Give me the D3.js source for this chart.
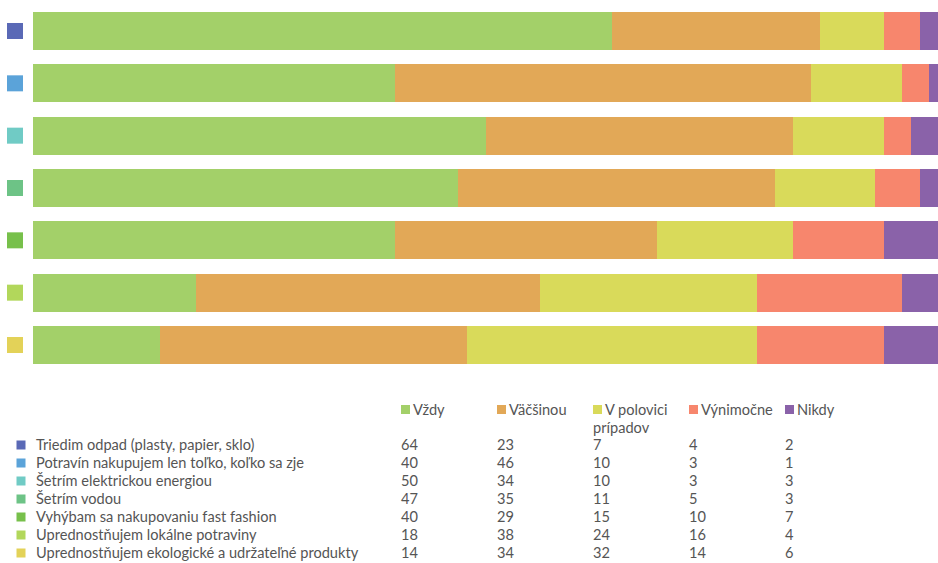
<!DOCTYPE html>
<html>
<head>
<meta charset="utf-8">
<script src="https://cdn.jsdelivr.net/npm/d3@7"></script>
<style>
  html, body { margin: 0; padding: 0; background: #fff; }
  svg { display: block; }
  text { font-family: Lato, "Open Sans", sans-serif; fill: #555555; }
</style>
</head>
<body>
<svg id="chart" width="938" height="563"></svg>
<script>
const categories = [
  "Triedim odpad (plasty, papier, sklo)",
  "Potravín nakupujem len toľko, koľko sa zje",
  "Šetrím elektrickou energiou",
  "Šetrím vodou",
  "Vyhýbam sa nakupovaniu fast fashion",
  "Uprednostňujem lokálne potraviny",
  "Uprednostňujem ekologické a udržateľné produkty"
];
const categoryColors = ["#5a69b6", "#5ba3d9", "#70cbc5", "#6dc386", "#77c04b", "#b2d75b", "#e3d258"];
const seriesNames = ["Vždy", "Väčšinou", "V polovici prípadov", "Výnimočne", "Nikdy"];
const seriesColors = ["#a3d069", "#e2a857", "#d9da5a", "#f7866d", "#8a62a9"];
const vzdy      = [64, 40, 50, 47, 40, 18, 14];
const vacsinou  = [23, 46, 34, 35, 29, 38, 34];
const vPolovici = [7, 10, 10, 11, 15, 24, 32];
const vynimocne = [4, 3, 3, 5, 10, 16, 14];
const nikdy     = [2, 1, 3, 3, 7, 4, 6];

const seriesValues = [vzdy, vacsinou, vPolovici, vynimocne, nikdy];
const keys = ["s0", "s1", "s2", "s3", "s4"];
const rows = categories.map((c, i) => {
  const r = { cat: c };
  keys.forEach((k, j) => r[k] = seriesValues[j][i]);
  return r;
});

const svg = d3.select("#chart");

const x = d3.scaleLinear().domain([0, 100]).range([33, 938]);
const y = d3.scaleBand().domain(categories).range([12, 364]).paddingInner(0.274).paddingOuter(0);
const color = d3.scaleOrdinal().domain(keys).range(seriesColors);
const catColor = d3.scaleOrdinal().domain(categories).range(categoryColors);

const stack = d3.stack().keys(keys)(rows);

svg.append("g").selectAll("g")
  .data(stack).join("g")
  .attr("fill", d => color(d.key))
  .selectAll("rect")
  .data(d => d).join("rect")
  .attr("x", d => x(d[0]))
  .attr("y", d => y(d.data.cat))
  .attr("width", d => x(d[1]) - x(d[0]))
  .attr("height", y.bandwidth())
  .attr("shape-rendering", "crispEdges");

// category markers
svg.append("g").selectAll("rect")
  .data(categories).join("rect")
  .attr("x", 7)
  .attr("y", d => y(d) + y.bandwidth() / 2 - 8)
  .attr("width", 16).attr("height", 16)
  .attr("fill", d => catColor(d));

// legend table
const fs = 14.6;
const colX = d3.scaleLinear().domain([0, 4]).range([401, 785]);
const rowY = d3.scaleLinear().domain([0, 6]).range([450, 558]);

const header = svg.append("g");
seriesNames.forEach((name, j) => {
  header.append("rect")
    .attr("x", colX(j)).attr("y", 405)
    .attr("width", 9).attr("height", 9)
    .attr("fill", seriesColors[j]);
  const t = header.append("text")
    .attr("x", colX(j) + 12).attr("y", 415)
    .attr("font-size", fs);
  if (name === "V polovici prípadov") {
    t.text("V polovici");
    header.append("text").attr("x", colX(j)).attr("y", 433)
      .attr("font-size", fs).text("prípadov");
  } else {
    t.text(name);
  }
});

const body = svg.append("g");
categories.forEach((c, i) => {
  body.append("rect")
    .attr("x", 16.5).attr("y", rowY(i) - 9.5)
    .attr("width", 9).attr("height", 9)
    .attr("fill", catColor(c));
  body.append("text")
    .attr("x", 36).attr("y", rowY(i))
    .attr("font-size", fs).text(c);
  seriesValues.forEach((vals, j) => {
    body.append("text")
      .attr("x", colX(j)).attr("y", rowY(i))
      .attr("font-size", fs).text(vals[i]);
  });
});
</script>
</body>
</html>
